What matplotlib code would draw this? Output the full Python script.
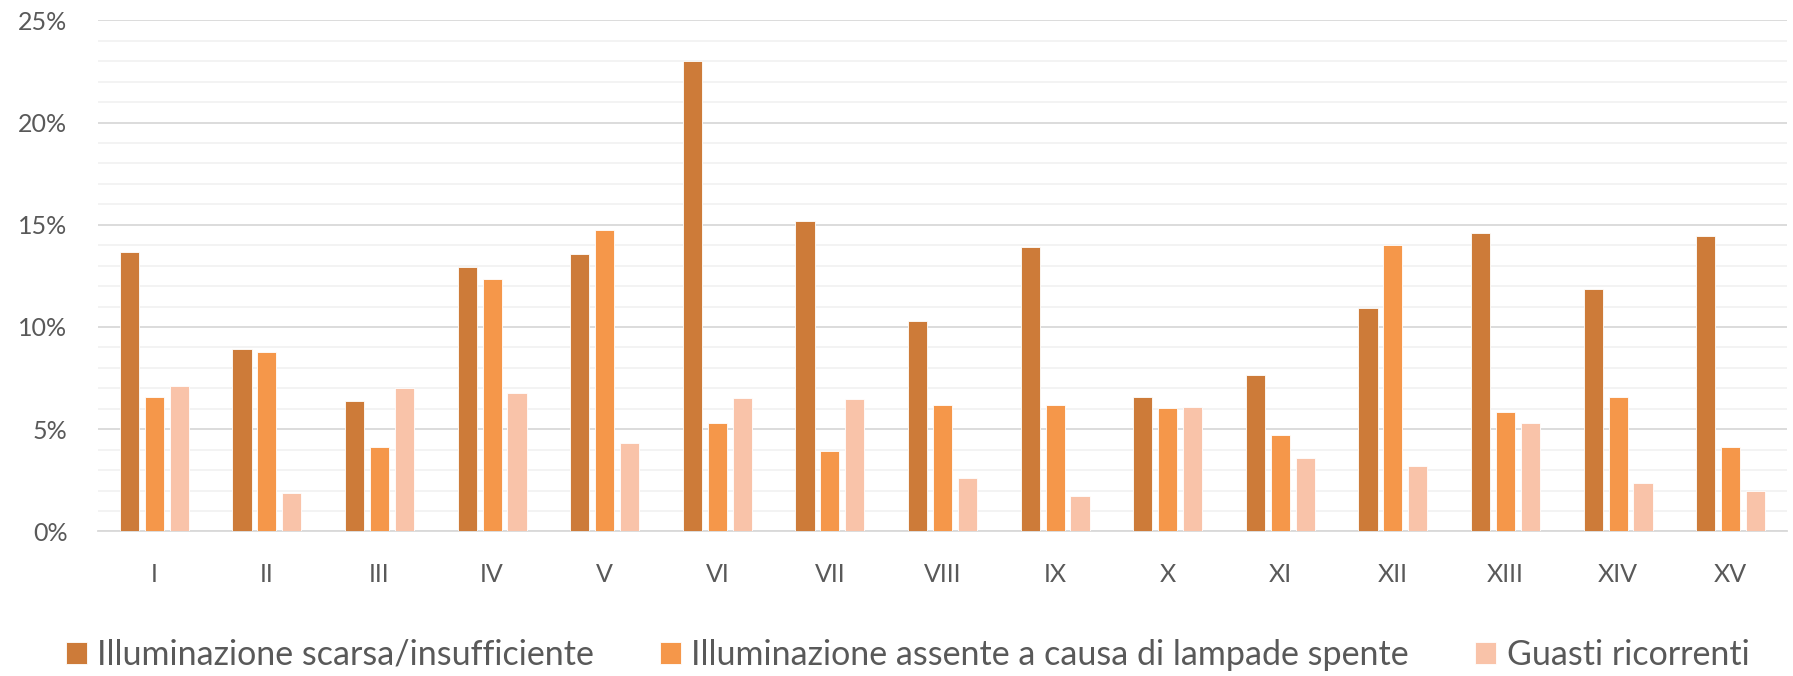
import matplotlib
matplotlib.use("Agg")
import matplotlib.pyplot as plt
import numpy as np
from matplotlib.ticker import MultipleLocator, FuncFormatter

categories = ["I", "II", "III", "IV", "V", "VI", "VII", "VIII", "IX", "X",
              "XI", "XII", "XIII", "XIV", "XV"]
scarsa = [13.66, 8.91, 6.38, 12.95, 13.56, 22.99, 15.18, 10.29, 13.89, 6.57,
          7.67, 10.94, 14.61, 11.85, 14.45]
assente = [6.57, 8.80, 4.12, 12.35, 14.73, 5.31, 3.91, 6.18, 6.17, 6.03,
           4.70, 14.01, 5.84, 6.59, 4.12]
guasti = [7.09, 1.90, 7.04, 6.78, 4.33, 6.53, 6.48, 2.60, 1.71, 6.11,
          3.60, 3.18, 5.29, 2.36, 1.96]
series_names = ["Illuminazione scarsa/insufficiente",
                "Illuminazione assente a causa di lampade spente",
                "Guasti ricorrenti"]
colors = ["#CD7B39", "#F5974A", "#F9C3A9"]

plt.rcParams['font.family'] = ['Lato', 'DejaVu Sans']

W, H = 1793, 676
fig = plt.figure(figsize=(W / 100, H / 100), dpi=100)
ax = fig.add_axes([98 / W, 1 - 531.4 / H, (1787 - 98) / W, (531.4 - 20.4) / H])

x = np.arange(len(categories))
bw = 0.17
step = 0.221
for i, (vals, name, c) in enumerate(zip([scarsa, assente, guasti], series_names, colors)):
    ax.bar(x + (i - 1) * step, vals, width=bw, color=c, label=name,
           edgecolor="white", linewidth=0.6, zorder=3)

ax.set_xlim(-0.5, len(categories) - 0.5)
ax.set_ylim(0, 25)
ax.yaxis.set_major_locator(MultipleLocator(5))
ax.yaxis.set_minor_locator(MultipleLocator(1))
ax.yaxis.set_major_formatter(FuncFormatter(lambda v, p: f"{v:.0f}%"))
ax.grid(axis='y', which='major', color='#D9D9D9', linewidth=1.3, zorder=0)
ax.grid(axis='y', which='minor', color='#F2F2F2', linewidth=1.3, zorder=0)
ax.set_xticks(x)
ax.set_xticklabels(categories)
for s in ["top", "right", "left"]:
    ax.spines[s].set_visible(False)
ax.spines["bottom"].set_color("#D9D9D9")
ax.spines["bottom"].set_linewidth(1.3)
ax.tick_params(axis='both', which='both', length=0, labelsize=18, labelcolor='#595959')
ax.tick_params(axis='y', pad=22)
ax.tick_params(axis='x', pad=23)

fig.legend(loc='center', bbox_to_anchor=(907.5 / W, 1 - 655 / H), ncol=3,
           frameon=False, fontsize=24.5, labelcolor='#595959',
           handlelength=0.62, handleheight=0.62, handletextpad=0.3,
           columnspacing=1.95)

fig.savefig("out.png", dpi=100, facecolor="white")
